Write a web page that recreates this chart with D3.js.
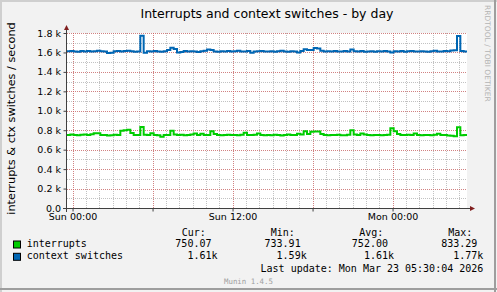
<!DOCTYPE html>
<html>
<head>
<meta charset="utf-8">
<script src="https://cdn.jsdelivr.net/npm/d3@7/dist/d3.min.js"></script>
<style>
  body { margin: 0; background: #fff; }
  svg text { font-family: "DejaVu Sans", sans-serif; }
  svg .mono { font-family: "DejaVu Sans Mono", monospace; white-space: pre; }
</style>
</head>
<body>
<svg id="graphe" width="497" height="292"></svg>
<script>
const titre = "Interrupts and context switches - by day";
const labelY = "interrupts & ctx switches / second";
const nomsSeries = ["interrupts", "context switches"];
const couleurs = ["#00CC00", "#0066B3"];

// 15 min par point, de sam. 23:35 a lun. 05:35 (UTC)
const debut = Date.UTC(2026, 2, 21, 23, 35);
const fin = Date.UTC(2026, 2, 23, 5, 35);
const pas = 15 * 60 * 1000;

const interrupts = [
  752, 755, 750, 748, 754, 757, 752, 758, 770, 768,
  752, 750, 746, 749, 753, 752, 795, 800, 805, 772,
  752, 750, 833, 754, 750, 768, 752, 748, 734, 750,
  752, 795, 756, 750, 753, 749, 752, 755, 766, 752,
  765, 750, 752, 789, 760, 750, 748, 752, 754, 750,
  752, 749, 753, 775, 752, 750, 754, 766, 750, 748,
  752, 749, 754, 751, 747, 752, 756, 750, 752, 765,
  755, 789, 760, 785, 787, 786, 762, 750, 748, 752,
  750, 754, 749, 748, 753, 799, 756, 752, 766, 756,
  750, 748, 752, 750, 748, 752, 754, 820, 790, 760,
  752, 750, 754, 752, 766, 752, 748, 750, 752, 749,
  754, 765, 752, 750, 746, 742, 738, 830, 748, 750
];

const ctxSwitches = [
  1612, 1615, 1610, 1608, 1614, 1611, 1616, 1610, 1613, 1618,
  1612, 1609, 1594, 1598, 1612, 1615, 1610, 1614, 1618, 1612,
  1608, 1611, 1772, 1596, 1612, 1609, 1614, 1611, 1606, 1612,
  1625, 1648, 1636, 1600, 1605, 1614, 1610, 1612, 1609, 1604,
  1612, 1618, 1630, 1625, 1610, 1608, 1613, 1611, 1615, 1609,
  1612, 1618, 1610, 1611, 1614, 1596, 1610, 1612, 1615, 1609,
  1611, 1613, 1608, 1612, 1617, 1610, 1607, 1613, 1611, 1600,
  1615, 1632, 1626, 1624, 1645, 1640, 1618, 1610, 1612, 1609,
  1614, 1610, 1611, 1616, 1609, 1630, 1612, 1610, 1614, 1608,
  1611, 1613, 1606, 1612, 1610, 1615, 1609, 1600, 1612, 1611,
  1614, 1608, 1612, 1616, 1610, 1609, 1613, 1611, 1607, 1612,
  1618, 1611, 1609, 1614, 1612, 1620, 1622, 1768, 1614, 1610
];

const ticksY = [0, 200, 400, 600, 800, 1000, 1200, 1400, 1600, 1800];
const labelsTicksY = ["0.0", "0.2 k", "0.4 k", "0.6 k", "0.8 k", "1.0 k", "1.2 k", "1.4 k", "1.6 k", "1.8 k"];
const ticksX = [Date.UTC(2026, 2, 22, 0), Date.UTC(2026, 2, 22, 12), Date.UTC(2026, 2, 23, 0)];
const labelsTicksX = ["Sun 00:00", "Sun 12:00", "Mon 00:00"];

const colonnes = ["Cur:", "Min:", "Avg:", "Max:"];
const statsInterrupts = ["750.07 ", "733.91 ", "752.00 ", "833.29 "];
const statsCtx = ["  1.61k", "  1.59k", "  1.61k", "  1.77k"];
const derniereMaj = "Last update: Mon Mar 23 05:30:04 2026";
const versionMunin = "Munin 1.4.5";

const gauche = 67, haut = 33, largeur = 400, hauteur = 175;

const svg = d3.select("#graphe");

let x = d3.scaleUtc().domain([debut, fin]).range([gauche, gauche + largeur]);
let y = d3.scaleLinear().domain([0, 1800]).range([haut + hauteur, haut]);

// fond et bordure facon rrdtool
svg.append("rect").attr("width", 497).attr("height", 292).attr("fill", "#F2F2F2");
svg.append("path").attr("d", "M0,1 H497 M1,0 V292").attr("stroke", "#CFCFCF").attr("stroke-width", 2);
svg.append("path").attr("d", "M0,289 H497 M495,0 V292").attr("stroke", "#9E9E9E").attr("stroke-width", 2);
svg.append("rect")
  .attr("x", gauche).attr("y", haut)
  .attr("width", largeur).attr("height", hauteur)
  .attr("fill", "#FFFFFF");

const px = (v) => Math.round(v) + 0.5;

// grille mineure
let grilleMin = svg.append("g")
  .attr("stroke", "rgba(143,143,143,0.55)")
  .attr("stroke-dasharray", "1,1")
  .attr("shape-rendering", "crispEdges");

grilleMin.selectAll(".vmin")
  .data(d3.utcHour.range(debut, fin))
  .enter().append("line")
  .attr("x1", (d) => px(x(d))).attr("x2", (d) => px(x(d)))
  .attr("y1", haut).attr("y2", haut + hauteur);

grilleMin.selectAll(".hmin")
  .data(y.ticks(18))
  .enter().append("line")
  .attr("x1", gauche).attr("x2", gauche + largeur)
  .attr("y1", (d) => px(y(d))).attr("y2", (d) => px(y(d)));

// grille majeure
let grilleMaj = svg.append("g")
  .attr("stroke", "rgba(222,79,79,0.55)")
  .attr("stroke-dasharray", "1,1")
  .attr("shape-rendering", "crispEdges");

grilleMaj.selectAll(".vmaj")
  .data(d3.utcHour.every(6).range(debut, fin))
  .enter().append("line")
  .attr("x1", (d) => px(x(d))).attr("x2", (d) => px(x(d)))
  .attr("y1", haut).attr("y2", haut + hauteur);

grilleMaj.selectAll(".hmaj")
  .data(ticksY)
  .enter().append("line")
  .attr("x1", gauche).attr("x2", gauche + largeur)
  .attr("y1", (d) => px(y(d))).attr("y2", (d) => px(y(d)));

// courbes
function versPoints(valeurs) {
  let pts = valeurs.map((v, i) => ({ t: debut + i * pas, v: v }));
  pts.push({ t: fin, v: valeurs[valeurs.length - 1] });
  return pts;
}

let ligne = d3.line()
  .x((d) => x(d.t))
  .y((d) => y(d.v))
  .curve(d3.curveStepAfter);

[interrupts, ctxSwitches].forEach((valeurs, i) => {
  svg.append("path")
    .datum(versPoints(valeurs))
    .attr("d", ligne)
    .attr("fill", "none")
    .attr("stroke", couleurs[i])
    .attr("stroke-width", 2);
});

// axes
let axeY = svg.append("g")
  .attr("transform", `translate(${gauche - 0.5},0)`)
  .call(d3.axisLeft(y).tickValues(ticksY).tickFormat((d, i) => labelsTicksY[i]).tickSize(3).tickPadding(2.5));

let axeX = svg.append("g")
  .attr("transform", `translate(0,${haut + hauteur + 0.5})`)
  .call(d3.axisBottom(x).tickValues(d3.utcHour.every(6).range(debut, fin))
    .tickFormat((d) => {
      let k = ticksX.indexOf(+d);
      return k >= 0 ? labelsTicksX[k] : "";
    })
    .tickSize(3).tickPadding(2));

[axeY, axeX].forEach((a) => {
  a.select(".domain").remove();
  a.selectAll("line").attr("stroke", "#404040");
  a.selectAll("text")
    .attr("font-family", "DejaVu Sans")
    .attr("font-size", "9.5px")
    .attr("fill", "#000");
});

svg.append("path")
  .attr("d", `M${gauche - 0.5},${haut + hauteur + 4} V${haut - 4} M${gauche - 4},${haut + hauteur + 0.5} H${gauche + largeur + 4}`)
  .attr("stroke", "#404040")
  .attr("fill", "none");

svg.append("path")
  .attr("d", `M${gauche - 3},${haut - 3} L${gauche + 2},${haut - 3} L${gauche - 0.5},${haut - 8} Z`)
  .attr("fill", "#801F1F");
svg.append("path")
  .attr("d", `M${gauche + largeur + 3},${haut + hauteur - 2} L${gauche + largeur + 3},${haut + hauteur + 3} L${gauche + largeur + 8},${haut + hauteur + 0.5} Z`)
  .attr("fill", "#801F1F");

// textes
svg.append("text")
  .attr("x", gauche + largeur / 2).attr("y", 18)
  .attr("text-anchor", "middle")
  .attr("font-size", "12.5px")
  .text(titre);

svg.append("text")
  .attr("transform", "translate(15,118.5) rotate(-90)")
  .attr("text-anchor", "middle")
  .attr("font-size", "11.3px")
  .text(labelY);

svg.append("text")
  .attr("transform", "translate(485,5) rotate(90)")
  .attr("font-size", "7.5px")
  .attr("fill", "#B4B4B4")
  .text("RRDTOOL / TOBI OETIKER");

// legende
const colsDebut = [181.7, 270.7, 359.3, 448.3];
const colsFin = [217.5, 306.7, 394, 483.3];

svg.selectAll(".entete")
  .data(colonnes)
  .enter().append("text")
  .attr("class", "mono")
  .attr("x", (d, i) => colsDebut[i]).attr("y", 235.5)
  .attr("font-size", "10px")
  .text((d) => d);

[statsInterrupts, statsCtx].forEach((stats, k) => {
  let yl = 247 + k * 12.3;
  svg.append("rect")
    .attr("x", 13.5).attr("y", yl - 6)
    .attr("width", 7).attr("height", 7)
    .attr("fill", couleurs[k])
    .attr("stroke", "#000");
  svg.append("text")
    .attr("class", "mono")
    .attr("x", 26.7).attr("y", yl)
    .attr("font-size", "10px")
    .text(nomsSeries[k]);
  svg.selectAll(".val" + k)
    .data(stats)
    .enter().append("text")
    .attr("class", "mono")
    .attr("x", (d, i) => colsFin[i]).attr("y", yl)
    .attr("text-anchor", "end")
    .attr("font-size", "10px")
    .text((d) => d);
});

svg.append("text")
  .attr("class", "mono")
  .attr("x", 483.3).attr("y", 271.8)
  .attr("text-anchor", "end")
  .attr("font-size", "10px")
  .text(derniereMaj);

svg.append("text")
  .attr("class", "mono")
  .attr("x", 224).attr("y", 283.5)
  .attr("font-size", "7.4px")
  .attr("fill", "#A0A0A0")
  .text(versionMunin);
</script>
</body>
</html>
